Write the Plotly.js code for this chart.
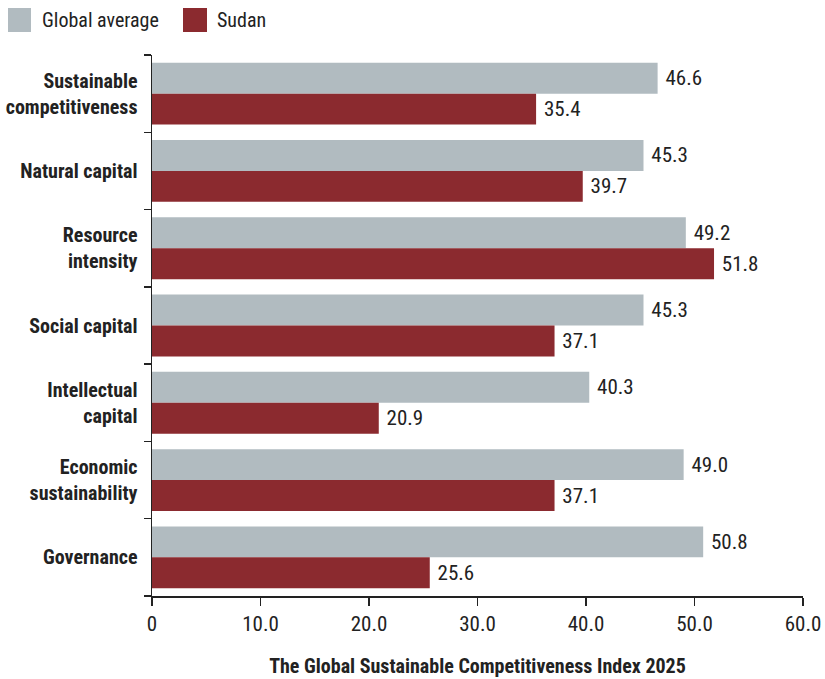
<!DOCTYPE html>
<html><head><meta charset="utf-8">
<script src="https://cdn.plot.ly/plotly-3.0.1.min.js"></script>
<style>body{margin:0;padding:0;background:#fff;}#chart{width:825px;height:679px;}</style>
</head><body><div id="chart"></div>
<script>
const categories = ["Sustainable<br>competitiveness","Natural capital","Resource<br>intensity","Social capital","Intellectual<br>capital","Economic<br>sustainability","Governance"];
const globalAverage = [46.6,45.3,49.2,45.3,40.3,49.0,50.8];
const sudan = [35.4,39.7,51.8,37.1,20.9,37.1,25.6];
const seriesNames = ["Global average","Sudan"];
const tickVals = [0,10,20,30,40,50,60];
const tickText = ["0","10.0","20.0","30.0","40.0","50.0","60.0"];

const FONT = "Liberation Sans Narrow, Arial Narrow, Roboto Condensed, sans-serif";
const GRAY = "#b1bbc0", RED = "#8b2a2f";
const PAD = "\u00a0";

const traces = [
  {type:"bar", orientation:"h", name:seriesNames[0], y:categories, x:globalAverage,
   marker:{color:GRAY}, text:globalAverage.map(v=>PAD+v.toFixed(1)), textposition:"outside",
   textfont:{family:FONT,size:21,color:"#222"}, cliponaxis:false, showlegend:false},
  {type:"bar", orientation:"h", name:seriesNames[1], y:categories, x:sudan,
   marker:{color:RED}, text:sudan.map(v=>PAD+v.toFixed(1)), textposition:"outside",
   textfont:{family:FONT,size:21,color:"#222"}, cliponaxis:false, showlegend:false}
];

const layout = {
  width:825, height:679,
  margin:{l:152, r:22, t:55, b:83},
  paper_bgcolor:"#fff", plot_bgcolor:"#fff",
  barmode:"group", bargap:0.2, bargroupgap:0,
  font:{family:FONT, color:"#222"},
  xaxis:{range:[0,60], tickvals:tickVals, ticktext:tickText, showgrid:false, zeroline:false,
    showline:true, linecolor:"#222", linewidth:1.5, ticks:"outside", ticklen:8, tickcolor:"#222", tickwidth:1.5,
    tickfont:{family:FONT,size:21,color:"#222"},
    title:{text:"<b>The Global Sustainable Competitiveness Index 2025</b>", font:{family:FONT,size:20,color:"#222"}, standoff:24}},
  yaxis:{autorange:"reversed", showgrid:false, zeroline:false, showline:true, linecolor:"#222", linewidth:1.5,
    ticks:"outside", tickson:"boundaries", ticklen:7, tickcolor:"#222", tickwidth:1.5,
    tickfont:{family:FONT,size:20,color:"#222"}, ticklabelstandoff:9,
    tickvals:categories, ticktext:categories.map(c=>"<b>"+c+"</b>")},
  shapes:[
    {type:"rect", xref:"paper", yref:"paper", x0:-0.2212, x1:-0.1859, y0:1.0425, y1:1.0869, fillcolor:GRAY, line:{width:0}},
    {type:"rect", xref:"paper", yref:"paper", x0:0.0476, x1:0.0845, y0:1.0425, y1:1.0869, fillcolor:RED, line:{width:0}}
  ],
  annotations:[
    {xref:"paper", yref:"paper", x:-0.172, y:1.0647, xanchor:"left", yanchor:"middle", showarrow:false,
     text:seriesNames[0], font:{family:FONT,size:20,color:"#222"}},
    {xref:"paper", yref:"paper", x:0.097, y:1.0647, xanchor:"left", yanchor:"middle", showarrow:false,
     text:seriesNames[1], font:{family:FONT,size:20,color:"#222"}}
  ]
};
Plotly.newPlot("chart", traces, layout, {displayModeBar:false, staticPlot:true});
</script></body></html>
